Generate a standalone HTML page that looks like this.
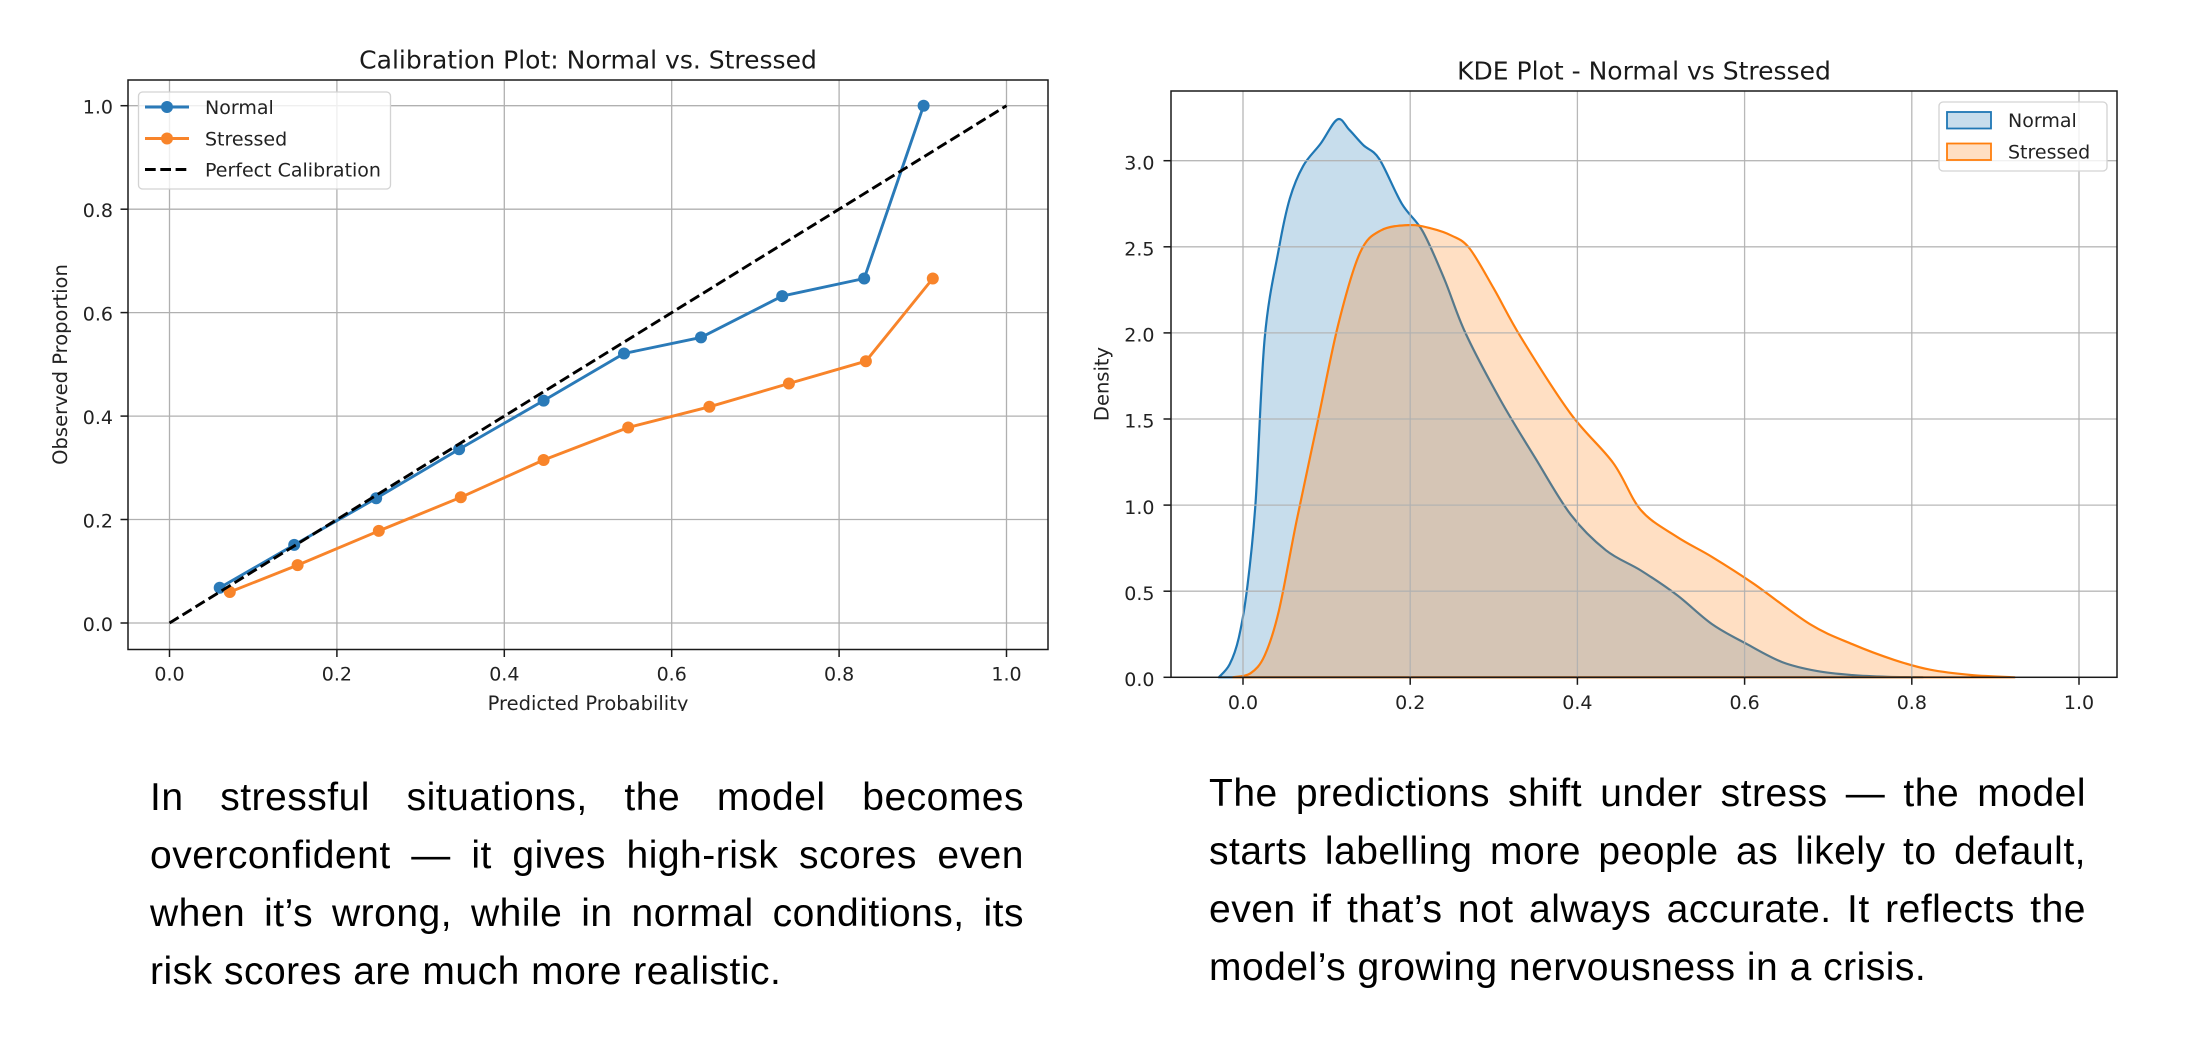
<!DOCTYPE html>
<html>
<head>
<meta charset="utf-8">
<style>
  html,body{margin:0;padding:0;background:#fff;}
  body{width:2204px;height:1046px;position:relative;overflow:hidden;}
  svg{position:absolute;left:0;top:0;}
  .ln{position:absolute;font-family:"Liberation Sans",Arial,sans-serif;font-size:39px;line-height:58px;height:58px;letter-spacing:0.5px;color:#000;white-space:nowrap;}
  .j{text-align:justify;text-align-last:justify;white-space:normal;}
  .tk{font-family:"DejaVu Sans","Liberation Sans",sans-serif;font-size:19px;fill:#222;}
  .lb{font-family:"DejaVu Sans","Liberation Sans",sans-serif;font-size:19.5px;fill:#222;}
  .tt{font-family:"DejaVu Sans","Liberation Sans",sans-serif;font-size:25px;fill:#1a1a1a;}
</style>
</head>
<body>
<svg width="2204" height="1046" viewBox="0 0 2204 1046" xmlns="http://www.w3.org/2000/svg">
  <defs>
    <clipPath id="clipL"><rect x="0" y="0" width="1080" height="711"/></clipPath>
  </defs>
  <rect x="0" y="0" width="2204" height="1046" fill="#fff"/>

  <!-- ================= LEFT CHART ================= -->
  <text class="tt" x="588" y="68.5" text-anchor="middle">Calibration Plot: Normal vs. Stressed</text>
  <g stroke="#b0b0b0" stroke-width="1.3">
    <line x1="169.5" y1="80" x2="169.5" y2="649.5"/>
    <line x1="336.9" y1="80" x2="336.9" y2="649.5"/>
    <line x1="504.3" y1="80" x2="504.3" y2="649.5"/>
    <line x1="671.7" y1="80" x2="671.7" y2="649.5"/>
    <line x1="839.1" y1="80" x2="839.1" y2="649.5"/>
    <line x1="1006.5" y1="80" x2="1006.5" y2="649.5"/>
    <line x1="128" y1="623" x2="1048" y2="623"/>
    <line x1="128" y1="519.5" x2="1048" y2="519.5"/>
    <line x1="128" y1="416.1" x2="1048" y2="416.1"/>
    <line x1="128" y1="312.6" x2="1048" y2="312.6"/>
    <line x1="128" y1="209.2" x2="1048" y2="209.2"/>
    <line x1="128" y1="105.7" x2="1048" y2="105.7"/>
  </g>
  <polyline fill="none" stroke="#2a7ab8" stroke-width="2.9" stroke-linejoin="round"
    points="219.7,587.8 294.2,544.9 376.2,498.3 459.1,449.2 543.6,400.6 624.0,353.5 701.0,337.4 782.2,296.1 864.2,278.5 923.6,105.7"/>
  <g fill="#2a7ab8">
    <circle cx="219.7" cy="587.8" r="6"/><circle cx="294.2" cy="544.9" r="6"/><circle cx="376.2" cy="498.3" r="6"/>
    <circle cx="459.1" cy="449.2" r="6"/><circle cx="543.6" cy="400.6" r="6"/><circle cx="624.0" cy="353.5" r="6"/>
    <circle cx="701.0" cy="337.4" r="6"/><circle cx="782.2" cy="296.1" r="6"/><circle cx="864.2" cy="278.5" r="6"/>
    <circle cx="923.6" cy="105.7" r="6"/>
  </g>
  <polyline fill="none" stroke="#f8842a" stroke-width="2.9" stroke-linejoin="round"
    points="229.8,592.0 297.6,565.1 378.8,530.9 460.8,497.3 543.6,460.0 628.2,427.5 709.4,406.8 788.9,383.5 865.9,361.2 932.8,278.5"/>
  <g fill="#f8842a">
    <circle cx="229.8" cy="592.0" r="6"/><circle cx="297.6" cy="565.1" r="6"/><circle cx="378.8" cy="530.9" r="6"/>
    <circle cx="460.8" cy="497.3" r="6"/><circle cx="543.6" cy="460.0" r="6"/><circle cx="628.2" cy="427.5" r="6"/>
    <circle cx="709.4" cy="406.8" r="6"/><circle cx="788.9" cy="383.5" r="6"/><circle cx="865.9" cy="361.2" r="6"/>
    <circle cx="932.8" cy="278.5" r="6"/>
  </g>
  <line x1="169.5" y1="623" x2="1006.5" y2="105.7" stroke="#000" stroke-width="2.9" stroke-dasharray="10.7,4.6"/>
  <rect x="128" y="80" width="920" height="569.5" fill="none" stroke="#1a1a1a" stroke-width="1.5"/>
  <g stroke="#1a1a1a" stroke-width="1.5">
    <line x1="120.5" y1="623" x2="128" y2="623"/>
    <line x1="120.5" y1="519.5" x2="128" y2="519.5"/>
    <line x1="120.5" y1="416.1" x2="128" y2="416.1"/>
    <line x1="120.5" y1="312.6" x2="128" y2="312.6"/>
    <line x1="120.5" y1="209.2" x2="128" y2="209.2"/>
    <line x1="120.5" y1="105.7" x2="128" y2="105.7"/>
    <line x1="169.5" y1="649.5" x2="169.5" y2="657"/>
    <line x1="336.9" y1="649.5" x2="336.9" y2="657"/>
    <line x1="504.3" y1="649.5" x2="504.3" y2="657"/>
    <line x1="671.7" y1="649.5" x2="671.7" y2="657"/>
    <line x1="839.1" y1="649.5" x2="839.1" y2="657"/>
    <line x1="1006.5" y1="649.5" x2="1006.5" y2="657"/>
  </g>
  <g class="tk" text-anchor="end">
    <text x="113" y="631">0.0</text>
    <text x="113" y="527.5">0.2</text>
    <text x="113" y="424.1">0.4</text>
    <text x="113" y="320.6">0.6</text>
    <text x="113" y="217.2">0.8</text>
    <text x="113" y="113.7">1.0</text>
  </g>
  <g class="tk" text-anchor="middle">
    <text x="169.5" y="680.7">0.0</text>
    <text x="336.9" y="680.7">0.2</text>
    <text x="504.3" y="680.7">0.4</text>
    <text x="671.7" y="680.7">0.6</text>
    <text x="839.1" y="680.7">0.8</text>
    <text x="1006.5" y="680.7">1.0</text>
  </g>
  <g clip-path="url(#clipL)">
    <text class="lb" x="588" y="710" text-anchor="middle">Predicted Probability</text>
  </g>
  <text class="lb" transform="translate(67,364.5) rotate(-90)" text-anchor="middle">Observed Proportion</text>
  <rect x="138.5" y="92" width="252" height="97" rx="4" ry="4" fill="#fff" fill-opacity="0.8" stroke="#d3d3d3" stroke-width="1.3"/>
  <line x1="145" y1="107" x2="189" y2="107" stroke="#2a7ab8" stroke-width="2.9"/>
  <circle cx="167" cy="107" r="6" fill="#2a7ab8"/>
  <line x1="145" y1="138.5" x2="189" y2="138.5" stroke="#f8842a" stroke-width="2.9"/>
  <circle cx="167" cy="138.5" r="6" fill="#f8842a"/>
  <line x1="145" y1="169.5" x2="189" y2="169.5" stroke="#000" stroke-width="2.9" stroke-dasharray="10.7,4.6"/>
  <g class="tk">
    <text x="205" y="114">Normal</text>
    <text x="205" y="145.5">Stressed</text>
    <text x="205" y="176.5">Perfect Calibration</text>
  </g>

  <!-- ================= RIGHT CHART ================= -->
  <text class="tt" x="1644" y="79.5" text-anchor="middle">KDE Plot - Normal vs Stressed</text>
  <polygon id="kdeN" fill="#1f77b4" fill-opacity="0.25" stroke="#1f77b4" stroke-width="2.2" stroke-linejoin="round"
    points="1218.8,677.3 1229.6,664.4 1238.8,637.7 1247.2,587.8 1255.5,503.4 1264.7,338.1 1278.9,248.5 1289.8,198.6 1303.2,165.9 1320.7,143.5 1337.5,119.4 1349.2,129.7 1363.4,145.2 1379.3,159.0 1401.8,203.7 1422.7,231.3 1444.5,279.5 1465.4,332.9 1500.5,400.1 1535.6,458.6 1570.7,514.6 1605.8,550.2 1640.9,570.5 1676.9,595.0 1712.0,624.1 1747.1,644.2 1782.2,662.1 1817.3,671.1 1852.4,675.1 1887.6,676.8 1922.7,677.3"/>
  <polygon id="kdeS" fill="#ff7f0e" fill-opacity="0.25" stroke="#ff7f0e" stroke-width="2.2" stroke-linejoin="round"
    points="1233.0,677.3 1250.5,673.3 1264.7,655.4 1278.9,610.7 1296.5,521.3 1317.4,422.8 1338.3,324.3 1360.0,252.8 1380.9,230.4 1409.4,225.1 1430.3,228.2 1452.0,235.8 1469.6,248.5 1493.8,288.6 1521.4,338.1 1570.7,413.8 1613.3,463.1 1640.9,510.1 1676.9,536.8 1712.0,556.9 1753.8,583.8 1809.8,624.1 1852.4,644.2 1894.2,659.9 1930.2,669.7 1972.0,675.1 2014.6,677.3"/>
  <g stroke="#b0b0b0" stroke-width="1.3" stroke-opacity="0.9">
    <line x1="1243" y1="91" x2="1243" y2="677.3"/>
    <line x1="1410.2" y1="91" x2="1410.2" y2="677.3"/>
    <line x1="1577.4" y1="91" x2="1577.4" y2="677.3"/>
    <line x1="1744.6" y1="91" x2="1744.6" y2="677.3"/>
    <line x1="1911.8" y1="91" x2="1911.8" y2="677.3"/>
    <line x1="2079" y1="91" x2="2079" y2="677.3"/>
    <line x1="1171" y1="591.2" x2="2117" y2="591.2"/>
    <line x1="1171" y1="505.1" x2="2117" y2="505.1"/>
    <line x1="1171" y1="419" x2="2117" y2="419"/>
    <line x1="1171" y1="332.9" x2="2117" y2="332.9"/>
    <line x1="1171" y1="246.8" x2="2117" y2="246.8"/>
    <line x1="1171" y1="160.7" x2="2117" y2="160.7"/>
  </g>
  <rect x="1171" y="91" width="946" height="586.3" fill="none" stroke="#1a1a1a" stroke-width="1.5"/>
  <g stroke="#1a1a1a" stroke-width="1.5">
    <line x1="1163.5" y1="677.3" x2="1171" y2="677.3"/>
    <line x1="1163.5" y1="591.2" x2="1171" y2="591.2"/>
    <line x1="1163.5" y1="505.1" x2="1171" y2="505.1"/>
    <line x1="1163.5" y1="419" x2="1171" y2="419"/>
    <line x1="1163.5" y1="332.9" x2="1171" y2="332.9"/>
    <line x1="1163.5" y1="246.8" x2="1171" y2="246.8"/>
    <line x1="1163.5" y1="160.7" x2="1171" y2="160.7"/>
    <line x1="1243" y1="677.3" x2="1243" y2="684.8"/>
    <line x1="1410.2" y1="677.3" x2="1410.2" y2="684.8"/>
    <line x1="1577.4" y1="677.3" x2="1577.4" y2="684.8"/>
    <line x1="1744.6" y1="677.3" x2="1744.6" y2="684.8"/>
    <line x1="1911.8" y1="677.3" x2="1911.8" y2="684.8"/>
    <line x1="2079" y1="677.3" x2="2079" y2="684.8"/>
  </g>
  <g class="tk" text-anchor="end">
    <text x="1154.5" y="686">0.0</text>
    <text x="1154.5" y="599.9">0.5</text>
    <text x="1154.5" y="513.8">1.0</text>
    <text x="1154.5" y="427.7">1.5</text>
    <text x="1154.5" y="341.6">2.0</text>
    <text x="1154.5" y="255.5">2.5</text>
    <text x="1154.5" y="169.4">3.0</text>
  </g>
  <g class="tk" text-anchor="middle">
    <text x="1243" y="709">0.0</text>
    <text x="1410.2" y="709">0.2</text>
    <text x="1577.4" y="709">0.4</text>
    <text x="1744.6" y="709">0.6</text>
    <text x="1911.8" y="709">0.8</text>
    <text x="2079" y="709">1.0</text>
  </g>
  <text class="lb" transform="translate(1108.5,384) rotate(-90)" text-anchor="middle">Density</text>
  <rect x="1939" y="102" width="168" height="69" rx="4" ry="4" fill="#fff" fill-opacity="0.8" stroke="#d3d3d3" stroke-width="1.3"/>
  <rect x="1947" y="112" width="44" height="16.5" fill="#1f77b4" fill-opacity="0.25" stroke="#1f77b4" stroke-width="1.8"/>
  <rect x="1947" y="143.5" width="44" height="16.5" fill="#ff7f0e" fill-opacity="0.25" stroke="#ff7f0e" stroke-width="1.8"/>
  <g class="tk">
    <text x="2008" y="127">Normal</text>
    <text x="2008" y="158.5">Stressed</text>
  </g>
</svg>

<div class="ln j" style="left:150px;top:769px;width:874px;">In stressful situations, the model becomes</div>
<div class="ln j" style="left:150px;top:827px;width:874px;">overconfident — it gives high-risk scores even</div>
<div class="ln j" style="left:150px;top:885px;width:874px;">when it’s wrong, while in normal conditions, its</div>
<div class="ln" style="left:150px;top:943px;">risk scores are much more realistic.</div>

<div class="ln j" style="left:1209px;top:765px;width:877px;">The predictions shift under stress — the model</div>
<div class="ln j" style="left:1209px;top:823px;width:877px;">starts labelling more people as likely to default,</div>
<div class="ln j" style="left:1209px;top:881px;width:877px;">even if that’s not always accurate. It reflects the</div>
<div class="ln" style="left:1209px;top:939px;">model’s growing nervousness in a crisis.</div>

<script>
(function(){
  var NS="http://www.w3.org/2000/svg";
  function smooth(id){
    var poly=document.getElementById(id); if(!poly) return;
    var raw=poly.getAttribute("points").trim().split(/\s+/).map(function(s){var a=s.split(",");return [parseFloat(a[0]),parseFloat(a[1])];});
    var base=677.3, n=raw.length;
    var d="M"+raw[0][0]+","+raw[0][1];
    for(var i=0;i<n-1;i++){
      var p0=raw[i-1]||raw[i], p1=raw[i], p2=raw[i+1], p3=raw[i+2]||raw[i+1];
      var c1x=p1[0]+(p2[0]-p0[0])/6, c1y=Math.min(base,p1[1]+(p2[1]-p0[1])/6);
      var c2x=p2[0]-(p3[0]-p1[0])/6, c2y=Math.min(base,p2[1]-(p3[1]-p1[1])/6);
      d+=" C"+c1x.toFixed(2)+","+c1y.toFixed(2)+" "+c2x.toFixed(2)+","+c2y.toFixed(2)+" "+p2[0]+","+p2[1];
    }
    var path=document.createElementNS(NS,"path");
    path.setAttribute("d",d+" Z");
    ["fill","fill-opacity","stroke","stroke-width","stroke-linejoin"].forEach(function(a){path.setAttribute(a,poly.getAttribute(a));});
    poly.parentNode.replaceChild(path,poly);
  }
  smooth("kdeN"); smooth("kdeS");
})();
</script>
</body>
</html>
